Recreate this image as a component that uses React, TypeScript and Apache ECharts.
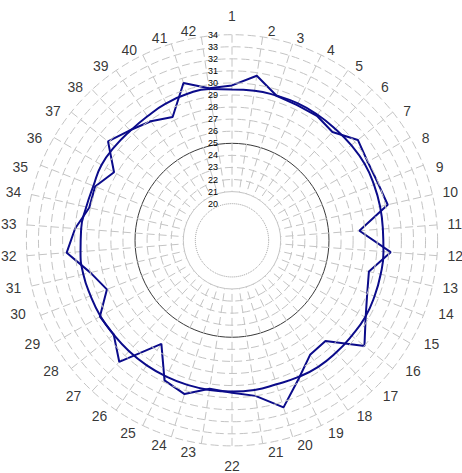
import React, { useEffect, useRef } from "react";
import * as echarts from "echarts";

// ---- data ----
const categories = [
  "1", "2", "3", "4", "5", "6", "7", "8", "9", "10", "11", "12", "13", "14",
  "15", "16", "17", "18", "19", "20", "21", "22", "23", "24", "25", "26", "27", "28",
  "29", "30", "31", "32", "33", "34", "35", "36", "37", "38", "39", "40", "41", "42",
];

const observed = [
  29.8, 30.75, 29.5, 29.4, 29.45, 29.2, 30.3, 29.95, 29.95, 30.2, 27.55, 30.15, 28.6, 29.0,
  29.75, 31.0, 28.35, 28.45, 29.7, 31.45, 30.0, 29.6, 29.4, 30.3, 29.85, 27.35, 30.7, 29.5,
  29.6, 28.1, 29.0, 30.7, 30.0, 29.1, 29.15, 28.25, 30.1, 29.4, 28.9, 28.3, 30.6, 29.7,
];

const smoothed = [
  29.45, 29.5, 29.5, 29.55, 29.55, 29.55, 29.6, 29.65, 29.6, 29.55, 29.5, 29.55, 29.6, 29.65,
  29.7, 29.65, 29.65, 29.65, 29.55, 29.45, 29.5, 29.5, 29.5, 29.5, 29.5, 29.5, 29.5, 29.5,
  29.55, 29.55, 29.6, 29.55, 29.5, 29.35, 29.3, 29.45, 29.4, 29.35, 29.4, 29.55, 29.65, 29.65,
];

const radialTicks = [20, 21, 22, 23, 24, 25, 26, 27, 28, 29, 30, 31, 32, 33, 34];
const RMIN = 20;
const RMAX = 34;

export default function App() {
  const ref = useRef<HTMLDivElement>(null);

  useEffect(() => {
    if (!ref.current) return;
    const chart = echarts.init(ref.current, null, { renderer: "svg" });

    const CX = 232;
    const CY = 240.3;
    const R_OUT = 205.6;
    const R_20 = 36.65;
    const R_21 = 48.7;
    const R_LABEL = 219;
    const grid = "#c4c4c4";
    const navy = "#0b0b8a";
    const font = "Liberation Sans, Arial, sans-serif";
    const n = categories.length;

    const closed = (arr: number[]) => {
      const pts = arr.map((v, i) => [v, i]);
      pts.push([arr[0], n]);
      return pts;
    };

    const dashedColors = radialTicks.map((t) =>
      t === 20 || t === 21 || t === 25 ? "transparent" : grid
    );

    // label alignment / nudging around the rim (style only)
    const labelStyle = (i: number) => {
      const a = (i / n) * Math.PI * 2;
      const s = Math.sin(a);
      const c = Math.cos(a);
      let align = "center";
      let verticalAlign = "middle";
      let extra = 0;
      let dx = 0;
      if (Math.abs(s) < 0.1) {
        align = "center";
        verticalAlign = c > 0 ? "bottom" : "top";
        extra = c > 0 ? -1.5 : 0;
      } else {
        align = s > 0 ? "left" : "right";
        if (Math.abs(c) < 0.25) {
          verticalAlign = "middle";
          extra = -3;
        } else if (c > 0) {
          verticalAlign = "top";
          extra = 0;
        } else {
          verticalAlign = "bottom";
          extra = 2.5;
        }
        if (Math.abs(s) < 0.2) dx = (s > 0 ? 1 : -1) * 3;
      }
      return {
        align,
        verticalAlign,
        offset: [extra * s + dx, -extra * c],
      };
    };

    const baseAngle = (idx: number, extra: any = {}) => ({
      polarIndex: idx,
      type: "value",
      min: 0,
      max: n,
      interval: 1,
      startAngle: 90,
      clockwise: true,
      axisLine: { show: false },
      axisTick: { show: false },
      axisLabel: { show: false },
      splitLine: { show: false },
      ...extra,
    });

    const option: any = {
      animation: false,
      backgroundColor: "#ffffff",
      polar: [
        { center: [CX, CY], radius: [R_20, R_OUT] },
        { center: [CX, CY], radius: [R_21, R_OUT] },
        { center: [CX, CY], radius: [R_20, R_OUT] },
        { center: [CX, CY], radius: [0, R_LABEL] },
      ],
      angleAxis: [
        baseAngle(0),
        baseAngle(1, {
          splitLine: { show: true, lineStyle: { color: grid, width: 1, type: [8, 4] } },
        }),
        baseAngle(2),
        baseAngle(3),
      ],
      radiusAxis: [
        {
          polarIndex: 0,
          type: "value",
          min: RMIN,
          max: RMAX,
          interval: 1,
          axisLine: { show: false },
          axisTick: { show: false },
          axisLabel: {
            show: true,
            fontSize: 9,
            color: "#000",
            fontFamily: font,
            margin: 19,
            align: "center",
            verticalAlign: "middle",
          },
          splitLine: {
            show: true,
            lineStyle: { color: dashedColors, width: 1, type: [8, 4] },
          },
          z: 5,
        },
        {
          polarIndex: 1,
          type: "value",
          min: 21,
          max: RMAX,
          interval: 4,
          axisLine: { show: false },
          axisTick: { show: false },
          axisLabel: { show: false },
          splitLine: {
            show: true,
            lineStyle: {
              color: [grid, "#3a3a3a", "transparent", "transparent", "transparent"],
              width: 1,
              type: "solid",
            },
          },
        },
        {
          polarIndex: 2,
          type: "value",
          min: RMIN,
          max: RMAX,
          interval: 14,
          axisLine: { show: false },
          axisTick: { show: false },
          axisLabel: { show: false },
          splitLine: {
            show: true,
            lineStyle: { color: ["#9a9a9a", "transparent"], width: 1, type: "dotted" },
          },
        },
        {
          polarIndex: 3,
          type: "value",
          min: 0,
          max: 1,
          axisLine: { show: false },
          axisTick: { show: false },
          axisLabel: { show: false },
          splitLine: { show: false },
        },
      ],
      series: [
        {
          type: "line",
          coordinateSystem: "polar",
          polarIndex: 0,
          data: closed(smoothed),
          smooth: true,
          symbol: "none",
          lineStyle: { color: navy, width: 2 },
          z: 3,
        },
        {
          type: "line",
          coordinateSystem: "polar",
          polarIndex: 0,
          data: closed(observed),
          smooth: false,
          symbol: "none",
          lineStyle: { color: navy, width: 2 },
          z: 3,
        },
        {
          type: "scatter",
          coordinateSystem: "polar",
          polarIndex: 3,
          data: categories.map((c, i) => ({
            value: [1, i],
            label: labelStyle(i),
          })),
          symbolSize: 1,
          itemStyle: { color: "transparent" },
          label: {
            show: true,
            position: "inside",
            formatter: (p: any) => categories[p.dataIndex],
            fontSize: 14,
            color: "#000",
            fontFamily: font,
          },
          silent: true,
        },
      ],
    };

    chart.setOption(option);
    return () => chart.dispose();
  }, []);

  return (
    <div
      ref={ref}
      style={{ position: "fixed", left: 0, top: 0, width: 462, height: 473, background: "#fff" }}
    />
  );
}
